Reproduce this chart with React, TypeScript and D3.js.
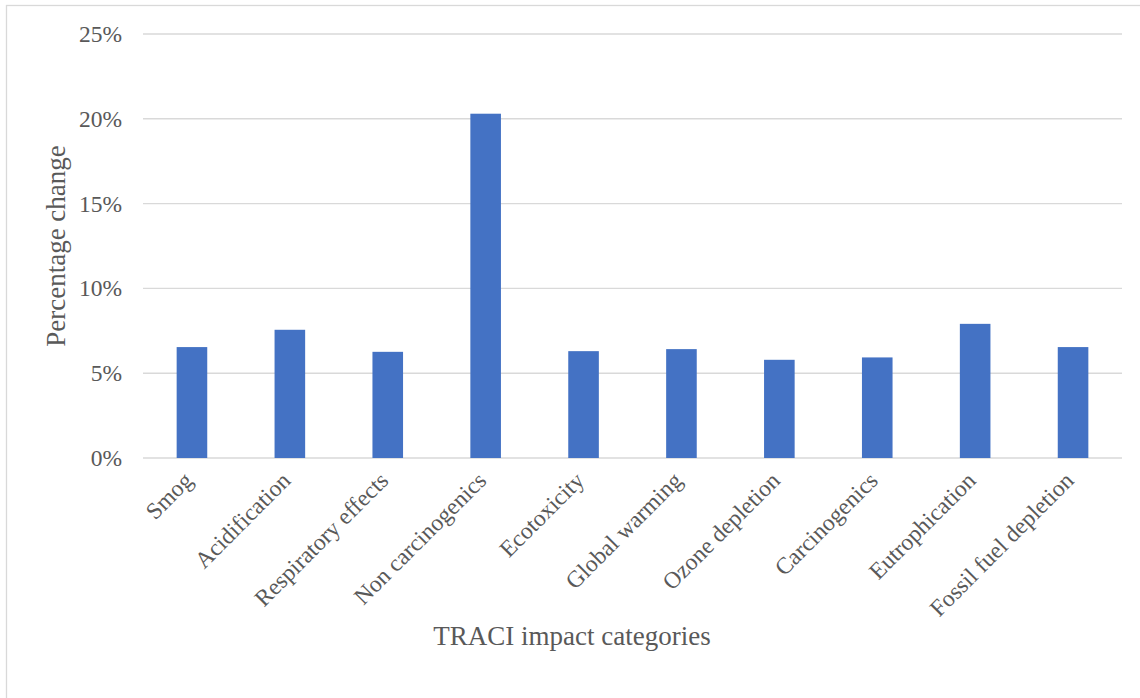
import React from "react";
import * as d3 from "d3";

// TRACI impact categories and their percentage change (in %)
const categories: string[] = [
  "Smog",
  "Acidification",
  "Respiratory effects",
  "Non carcinogenics",
  "Ecotoxicity",
  "Global warming",
  "Ozone depletion",
  "Carcinogenics",
  "Eutrophication",
  "Fossil fuel depletion",
];
const percentChange: number[] = [6.54, 7.56, 6.26, 20.3, 6.3, 6.42, 5.79, 5.93, 7.91, 6.54];
const yTicks: number[] = [0, 5, 10, 15, 20, 25];

const W = 1140;
const H = 698;
const plot = { left: 143, right: 1122, top: 34, bottom: 458 };
const font = "'Liberation Serif', 'Times New Roman', serif";
const textColor = "#595959";
const gridColor = "#d9d9d9";
const barColor = "#4472C4";

export default function App() {
  const x = d3
    .scaleBand<string>()
    .domain(categories)
    .range([plot.left, plot.right])
    .paddingInner(0.6875)
    .paddingOuter(0.34375);
  const y = d3.scaleLinear().domain([0, 25]).range([plot.bottom, plot.top]);

  return (
    <svg
      width={W}
      height={H}
      style={{ position: "absolute", left: 0, top: 0, background: "#fff" }}
      fontFamily={font}
    >
      <rect x={6.5} y={5.5} width={W} height={H} fill="#fff" stroke={gridColor} strokeWidth={1.3} />
      {/* gridlines and y tick labels */}
      {yTicks.map((t) => (
        <g key={t}>
          <line
            x1={plot.left}
            x2={plot.right}
            y1={y(t)}
            y2={y(t)}
            stroke={gridColor}
            strokeWidth={1.4}
          />
          <text
            x={122}
            y={y(t)}
            dy="0.34em"
            textAnchor="end"
            fontSize={23.5}
            fill={textColor}
          >
            {`${t}%`}
          </text>
        </g>
      ))}
      {/* bars */}
      {categories.map((c, i) => (
        <rect
          key={c}
          x={x(c)!}
          y={y(percentChange[i])}
          width={x.bandwidth()}
          height={y(0) - y(percentChange[i])}
          fill={barColor}
        />
      ))}
      {/* category labels */}
      {categories.map((c) => {
        const cx = x(c)! + x.bandwidth() / 2 + 2;
        return (
          <text
            key={c}
            transform={`translate(${cx},482) rotate(-45)`}
            textAnchor="end"
            fontSize={23.5}
            fill={textColor}
          >
            {c}
          </text>
        );
      })}
      {/* axis titles */}
      <text
        transform={`translate(64.5,${(plot.top + plot.bottom) / 2}) rotate(-90)`}
        textAnchor="middle"
        fontSize={27}
        fill={textColor}
      >
        Percentage change
      </text>
      <text x={572} y={645} textAnchor="middle" fontSize={27} fill={textColor}>
        TRACI impact categories
      </text>
    </svg>
  );
}
